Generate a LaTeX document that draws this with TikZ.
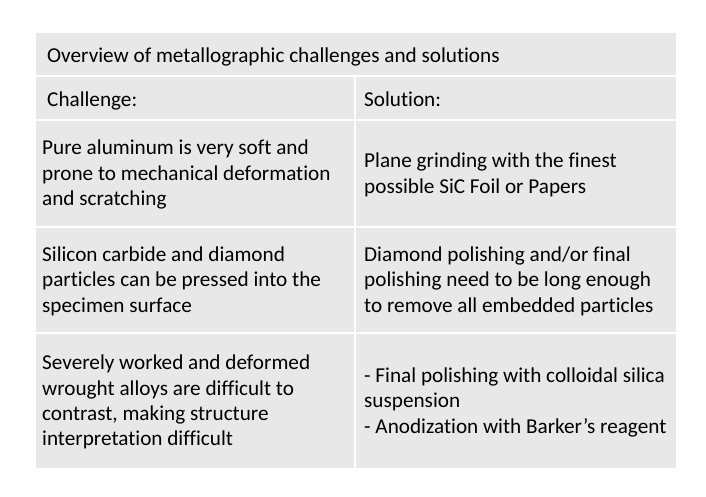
\documentclass[tikz,border=0pt]{standalone}
\usepackage{fontspec}
\setmainfont{Carlito}[Ligatures={NoCommon}]
\usetikzlibrary{positioning}
\definecolor{cellgray}{HTML}{E8E8E8}
\tikzset{
    x=1pt, y=-1pt, % Pixel-like units, y grows downwards
    every cell/.style={ % Sets the properties for each table cell
        draw=white,
        line width=1.5pt,
        fill=cellgray,
        anchor=north west,
        inner sep=0pt
    },
    celltext/.style={ % Text inside a cell
        anchor=west,
        align=left,
        inner sep=0pt,
        yshift=-3.5pt,
        font=\fontsize{21.2}{25.4}\selectfont,
        execute at begin node=\strut,
        execute at end node=\strut
    }
}
\begin{document}
\begin{tikzpicture}
    \useasboundingbox (0,0) rectangle (706,496);
    % cells
    \node[every cell, minimum width=642pt, minimum height=44pt] (title) at (34,31) {};
    \node[every cell, minimum width=320pt, minimum height=44pt] (headL) at (34,75) {};
    \node[every cell, minimum width=322pt, minimum height=44pt] (headR) at (354,75) {};
    \node[every cell, minimum width=320pt, minimum height=107pt] (oneL) at (34,119) {};
    \node[every cell, minimum width=322pt, minimum height=107pt] (oneR) at (354,119) {};
    \node[every cell, minimum width=320pt, minimum height=106pt] (twoL) at (34,226) {};
    \node[every cell, minimum width=322pt, minimum height=106pt] (twoR) at (354,226) {};
    \node[every cell, minimum width=320pt, minimum height=136pt] (threeL) at (34,332) {};
    \node[every cell, minimum width=322pt, minimum height=136pt] (threeR) at (354,332) {};
    % texts
    \node[celltext] (titleT) at ([xshift=13pt]title.west) {Overview of metallographic challenges and solutions};
    \node[celltext] (headLT) at ([xshift=13pt]headL.west) {Challenge:};
    \node[celltext] (headRT) at ([xshift=10pt]headR.west) {Solution:};
    \node[celltext] (oneLT) at ([xshift=8pt]oneL.west) {Pure aluminum is very soft and\\prone to mechanical deformation\\and scratching};
    \node[celltext] (oneRT) at ([xshift=10pt]oneR.west) {Plane grinding with the finest\\possible SiC Foil or Papers};
    \node[celltext] (twoLT) at ([xshift=8pt]twoL.west) {Silicon carbide and diamond\\particles can be pressed into the\\specimen surface};
    \node[celltext] (twoRT) at ([xshift=10pt]twoR.west) {Diamond polishing and/or final\\polishing need to be long enough\\to remove all embedded particles};
    \node[celltext] (threeLT) at ([xshift=8pt]threeL.west) {Severely worked and deformed\\wrought alloys are difficult to\\contrast, making structure\\interpretation difficult};
    \node[celltext] (threeRT) at ([xshift=10pt]threeR.west) {- Final polishing with colloidal silica\\suspension\\- Anodization with Barker’s reagent};
\end{tikzpicture}
\end{document}
